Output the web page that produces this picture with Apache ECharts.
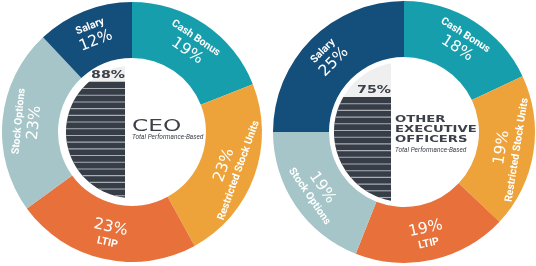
<!DOCTYPE html>
<html>
<head>
<meta charset="utf-8">
<script src="https://cdn.jsdelivr.net/npm/echarts@6/dist/echarts.min.js"></script>
<style>
  html, body { margin: 0; padding: 0; background: #ffffff; }
  #chart { width: 536px; height: 266px; }
</style>
</head>
<body>
<div id="chart"></div>
<script>
// ---- data ----
const categories = ['Cash Bonus', 'Restricted Stock Units', 'LTIP', 'Stock Options', 'Salary'];
const ceoValues = [19, 23, 23, 23, 12];
const otherValues = [18, 19, 19, 19, 25];
const performanceBased = [88, 75];
const panelTitles = ['CEO', 'OTHER\nEXECUTIVE\nOFFICERS'];
const subTitle = 'Total Performance-Based';

// ---- styles ----
const sliceColors = ['#179ead', '#eda33a', '#e8703a', '#a5c5c8', '#144e7b'];
const textDark = '#3b4049';

function buildPieData(values) {
  const total = values.reduce((a, b) => a + b, 0);
  let acc = 0;
  return values.map((v, i) => {
    const mid = (acc + v / 2) / total * 360; // clockwise from top
    acc += v;
    const isDown = mid > 90 && mid < 270;
    const n = '{n|' + categories[i] + '}';
    const p = '{p|' + v + '%}';
    return {
      name: categories[i],
      value: v,
      itemStyle: { color: sliceColors[i] },
      label: { formatter: isDown ? p + '\n' + n : n + '\n' + p }
    };
  });
}

function pieSeries(values, center, radius) {
  return {
    type: 'pie',
    z: 4,
    center: center,
    radius: radius,
    startAngle: 90,
    clockwise: true,
    silent: true,
    animation: false,
    avoidLabelOverlap: false,
    label: {
      show: true,
      position: 'inside',
      rotate: 'tangential',
      color: '#ffffff',
      lineHeight: 15,
      rich: {
        n: { fontFamily: 'Roboto', fontWeight: 'bold', fontSize: 10.5, color: '#ffffff', lineHeight: 14 },
        p: { fontFamily: 'DejaVu Sans', fontWeight: 'normal', fontSize: 15.5, color: '#ffffff', lineHeight: 17 }
      }
    },
    labelLine: { show: false },
    itemStyle: { borderWidth: 0 },
    emphasis: { disabled: true },
    data: buildPieData(values)
  };
}

// half-disc gauge drawn via custom series using the y axis scale
const discGap = [7, 13];
function discSeries(idx) {
  return {
    type: 'custom',
    xAxisIndex: idx,
    yAxisIndex: idx,
    z: 2,
    silent: true,
    animation: false,
    data: [[0.5, performanceBased[idx]]],
    renderItem: function (params, api) {
      const cs = params.coordSys;
      const cx = cs.x + cs.width / 2;
      const cy = cs.y + cs.height / 2;
      const r = cs.height / 2;
      const xr = cx - discGap[idx];
      const val = api.value(1);
      const yTop = api.coord([0.5, val])[1];
      const yFull = api.coord([0.5, 100])[1];

      function halfDisc(y0) {
        const dx = xr - cx;
        const tb = Math.acos(dx / r);
        let s = (y0 - cy) / r;
        s = Math.max(-1, Math.min(1, s));
        const tt = Math.PI - Math.asin(s);
        const tEnd = Math.min(tt, 2 * Math.PI - tb);
        const pts = [];
        const N = 60;
        for (let k = 0; k <= N; k++) {
          const t = tb + (tEnd - tb) * k / N;
          pts.push([cx + r * Math.cos(t), cy + r * Math.sin(t)]);
        }
        if (tt < 2 * Math.PI - tb) pts.push([xr, y0]);
        return pts;
      }

      const children = [];
      children.push({
        type: 'polygon',
        shape: { points: halfDisc(yFull) },
        style: { fill: '#efefef' }
      });
      children.push({
        type: 'polygon',
        shape: { points: halfDisc(yTop) },
        style: { fill: '#363d47' }
      });
      const step = 6.7;
      for (let y = yTop + step; y < cy + r - 1; y += step) {
        const h = Math.sqrt(Math.max(0, r * r - (y - cy) * (y - cy)));
        const x1 = cx - h;
        const x2 = Math.min(xr, cx + h);
        if (x2 - x1 < 2) continue;
        children.push({
          type: 'line',
          shape: { x1: x1, y1: y, x2: x2, y2: y },
          style: { stroke: '#a9aeb4', lineWidth: 1.1 }
        });
      }
      children.push({
        type: 'text',
        x: xr,
        y: yTop - 1,
        scaleX: 1.35,
        style: {
          text: val + '%',
          align: 'right',
          verticalAlign: 'bottom',
          font: 'bold 10.5px "DejaVu Sans"',
          fill: textDark
        }
      });
      return { type: 'group', children: children };
    }
  };
}

const chart = echarts.init(document.getElementById('chart'), null, { renderer: 'canvas' });

const option = {
  animation: false,
  backgroundColor: '#ffffff',
  grid: [
    { left: 132 - 66, top: 132 - 66, width: 132, height: 132, containLabel: false },
    { left: 404 - 70, top: 132 - 70, width: 140, height: 140, containLabel: false }
  ],
  xAxis: [
    { gridIndex: 0, type: 'value', min: 0, max: 1, show: false },
    { gridIndex: 1, type: 'value', min: 0, max: 1, show: false }
  ],
  yAxis: [
    { gridIndex: 0, type: 'value', min: 0, max: 100, show: false },
    { gridIndex: 1, type: 'value', min: 0, max: 100, show: false }
  ],
  series: [
    discSeries(0),
    discSeries(1),
    pieSeries(ceoValues, [132, 132], [74, 130]),
    pieSeries(otherValues, [404, 132], [75, 131])
  ],
  graphic: [
    {
      type: 'text', x: 132, y: 127, scaleX: 1.55, z: 10,
      style: { text: panelTitles[0], font: 'normal 15px "DejaVu Sans"', fill: textDark, verticalAlign: 'middle', align: 'left' }
    },
    {
      type: 'text', x: 132, y: 137.5, z: 10,
      style: { text: subTitle, font: 'italic 6.5px Roboto', fill: textDark, verticalAlign: 'middle', align: 'left' }
    },
    {
      type: 'text', x: 395, y: 114.5, scaleX: 1.65, z: 10,
      style: { text: panelTitles[1], font: 'bold 8px "DejaVu Sans"', lineHeight: 10.2, fill: textDark, verticalAlign: 'top', align: 'left' }
    },
    {
      type: 'text', x: 395, y: 150, z: 10,
      style: { text: subTitle, font: 'italic 6.5px Roboto', fill: textDark, verticalAlign: 'middle', align: 'left' }
    }
  ]
};
chart.setOption(option);
</script>
</body>
</html>
